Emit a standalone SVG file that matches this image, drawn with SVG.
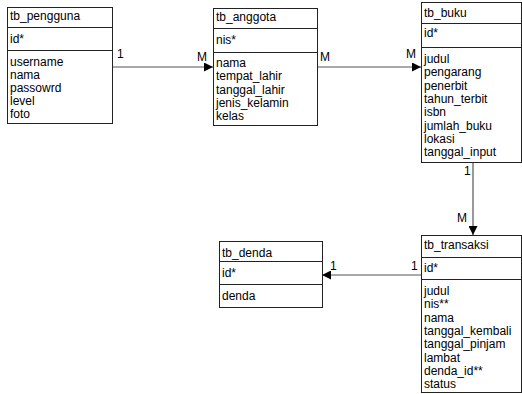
<svg xmlns="http://www.w3.org/2000/svg" width="522" height="394" viewBox="0 0 522 394">
<style>
text{font-family:"Liberation Sans",Arial,sans-serif;font-size:12px;fill:#000}
.box{fill:#fff;stroke:#222;stroke-width:1}
.sep{stroke:#222;stroke-width:1}
.conn{stroke:#555;stroke-width:1.2;fill:none}
</style>
<defs>
<marker id="arr" viewBox="0 0 10 10" refX="10" refY="5" markerWidth="9" markerHeight="9" markerUnits="userSpaceOnUse" orient="auto">
<path d="M0,0 L10,5 L0,10 z" fill="#000"/>
</marker>
</defs>
<rect width="522" height="394" fill="#fff"/>
<g id="connectors">
<line class="conn" x1="112" y1="67" x2="213" y2="67" marker-end="url(#arr)"/>
<text x="117" y="58">1</text>
<text x="197" y="61">M</text>
<line class="conn" x1="317" y1="67" x2="421" y2="67" marker-end="url(#arr)"/>
<text x="320" y="61">M</text>
<text x="406" y="58">M</text>
<line class="conn" x1="473" y1="162" x2="473" y2="235" marker-end="url(#arr)"/>
<text x="464" y="175">1</text>
<text x="457" y="222">M</text>
<line class="conn" x1="421" y1="275" x2="322" y2="275" marker-end="url(#arr)"/>
<text x="411" y="270">1</text>
<text x="330" y="270">1</text>
</g>
<g id="tb_pengguna">
<rect class="box" x="7.5" y="7.5" width="105" height="116"/>
<line class="sep" x1="7.5" y1="27.5" x2="112.5" y2="27.5"/>
<line class="sep" x1="7.5" y1="50.5" x2="112.5" y2="50.5"/>
<text x="10" y="20">tb_pengguna</text>
<text x="10" y="43">id*</text>
<text x="10" y="66">username</text>
<text x="10" y="79">nama</text>
<text x="10" y="92">passowrd</text>
<text x="10" y="105">level</text>
<text x="10" y="118">foto</text>
</g>
<g id="tb_anggota">
<rect class="box" x="213.5" y="8.5" width="104" height="117"/>
<line class="sep" x1="213.5" y1="28.5" x2="317.5" y2="28.5"/>
<line class="sep" x1="213.5" y1="52.5" x2="317.5" y2="52.5"/>
<text x="216" y="21">tb_anggota</text>
<text x="216" y="44">nis*</text>
<text x="216" y="67">nama</text>
<text x="216" y="80.3">tempat_lahir</text>
<text x="216" y="93.6">tanggal_lahir</text>
<text x="216" y="107">jenis_kelamin</text>
<text x="216" y="120">kelas</text>
</g>
<g id="tb_buku">
<rect class="box" x="421.5" y="2.5" width="100" height="160"/>
<line class="sep" x1="421.5" y1="23.5" x2="521.5" y2="23.5"/>
<line class="sep" x1="421.5" y1="47.5" x2="521.5" y2="47.5"/>
<text x="424" y="17">tb_buku</text>
<text x="424" y="37">id*</text>
<text x="424" y="63">judul</text>
<text x="424" y="76.3">pengarang</text>
<text x="424" y="89.6">penerbit</text>
<text x="424" y="103">tahun_terbit</text>
<text x="424" y="116.2">isbn</text>
<text x="424" y="129.5">jumlah_buku</text>
<text x="424" y="142.8">lokasi</text>
<text x="424" y="156">tanggal_input</text>
</g>
<g id="tb_transaksi">
<rect class="box" x="421.5" y="235.5" width="100" height="157"/>
<line class="sep" x1="421.5" y1="257.5" x2="521.5" y2="257.5"/>
<line class="sep" x1="421.5" y1="279.5" x2="521.5" y2="279.5"/>
<text x="424" y="249">tb_transaksi</text>
<text x="424" y="272">id*</text>
<text x="424" y="295">judul</text>
<text x="424" y="308.3">nis**</text>
<text x="424" y="321.6">nama</text>
<text x="424" y="335">tanggal_kembali</text>
<text x="424" y="348.2">tanggal_pinjam</text>
<text x="424" y="361.5">lambat</text>
<text x="424" y="374.8">denda_id**</text>
<text x="424" y="388">status</text>
</g>
<g id="tb_denda">
<rect class="box" x="219.5" y="241.5" width="103" height="66"/>
<line class="sep" x1="219.5" y1="261.5" x2="322.5" y2="261.5"/>
<line class="sep" x1="219.5" y1="284.5" x2="322.5" y2="284.5"/>
<text x="222" y="257">tb_denda</text>
<text x="222" y="277">id*</text>
<text x="222" y="300">denda</text>
</g>
</svg>
